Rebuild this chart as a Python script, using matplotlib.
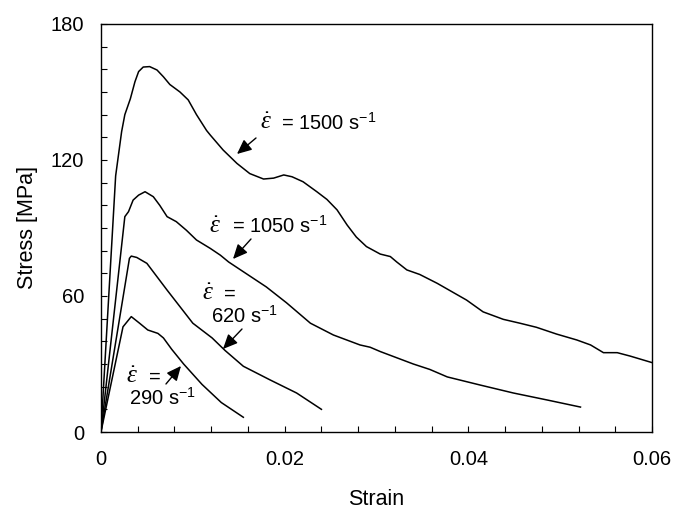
import matplotlib
matplotlib.use('Agg')
import matplotlib.pyplot as plt
from matplotlib.ticker import MultipleLocator

plt.rcParams['font.family'] = ['Liberation Sans', 'DejaVu Sans']
plt.rcParams['mathtext.fontset'] = 'custom'
plt.rcParams['mathtext.rm'] = 'Liberation Sans'
plt.rcParams['mathtext.it'] = 'Liberation Serif:italic'

# strain / stress
strain_1500 = [0, 0.0016, 0.0019, 0.00225, 0.0026, 0.0032, 0.0037, 0.0041, 0.0046,
               0.0053, 0.0061, 0.0068, 0.0075, 0.0086, 0.0095, 0.0104, 0.0115,
               0.0119, 0.0133, 0.0148, 0.0162, 0.0177, 0.0188, 0.0199, 0.0208,
               0.022, 0.0235, 0.0246, 0.0257, 0.0268, 0.0278, 0.0289, 0.0304,
               0.0315, 0.0322, 0.0333, 0.0347, 0.0366, 0.0398, 0.0416, 0.0438,
               0.0456, 0.0474, 0.0496, 0.0518, 0.0533, 0.0547, 0.0562, 0.0576,
               0.06]
stress_1500 = [0, 113, 122, 132.5, 140, 147, 154.5, 159, 161, 161.2, 159.7,
               156.7, 153.3, 150, 146.5, 140, 133, 131, 124.4, 118.5, 114,
               111.6, 112, 113.4, 112.6, 110.4, 106, 102.6, 98, 91.3, 86, 81.8,
               78.5, 77.4, 75, 71.5, 69.5, 65.6, 58.2, 53, 49.7, 48, 46.2, 43.2,
               40.6, 38.4, 35, 35, 33.5, 30.6]

strain_1050 = [0, 0.0026, 0.003, 0.0035, 0.0041, 0.0048, 0.0057, 0.0064, 0.0072,
               0.0082, 0.0093, 0.0104, 0.0119, 0.013, 0.0139, 0.018, 0.0202,
               0.0228, 0.0253, 0.0282, 0.0293, 0.0304, 0.034, 0.0358, 0.0377,
               0.0413, 0.0449, 0.0486, 0.0522]
stress_1050 = [0, 95, 97.2, 102.3, 104.5, 106, 103.8, 100, 95, 92.8, 89, 84.7,
               81, 78, 75, 64, 57, 48, 42.8, 38.4, 37.4, 35.5, 30, 27.6, 24.3,
               20.7, 17.2, 14.1, 11]

strain_620 = [0, 0.0031, 0.0033, 0.0039, 0.005, 0.0061, 0.0072, 0.0086, 0.01,
              0.0121, 0.0135, 0.0155, 0.0184, 0.0213, 0.024]
stress_620 = [0, 76.6, 77.6, 77, 74.4, 68.5, 62.6, 55.3, 48, 41.5, 36, 29, 23,
              17.2, 10]

strain_290 = [0, 0.0024, 0.0033, 0.0042, 0.0051, 0.0062, 0.0068, 0.0077, 0.009,
              0.011, 0.0131, 0.0155]
stress_290 = [0, 46.4, 50.9, 48, 45, 43.5, 41.5, 36.5, 30, 21, 13, 6.5]

fig = plt.figure(figsize=(6.73, 5.08), dpi=100)
ax = fig.add_axes([0.150, 0.1496, 0.819, 0.8032])

for x, y in [(strain_1500, stress_1500), (strain_1050, stress_1050),
             (strain_620, stress_620), (strain_290, stress_290)]:
    ax.plot(x, y, color='black', lw=1.1, solid_joinstyle='round')

ax.set_xlim(0, 0.06)
ax.set_ylim(0, 180)
ax.xaxis.set_minor_locator(MultipleLocator(0.004))
ax.yaxis.set_major_locator(MultipleLocator(60))
ax.yaxis.set_minor_locator(MultipleLocator(10))
ax.set_xticks([0, 0.02, 0.04, 0.06])
ax.set_xticklabels(['0', '0.02', '0.04', '0.06'])
ax.tick_params(which='both', direction='in', length=4.5, width=0.8,
               top=False, right=False, labelsize=14.5)
ax.tick_params(axis='x', pad=13)
ax.tick_params(axis='y', pad=12)
for sp in ax.spines.values():
    sp.set_linewidth(1.0)

ax.set_xlabel('Strain', fontsize=15.5, labelpad=14)
ax.set_ylabel('Stress [MPa]', fontsize=15.5, labelpad=9)

tsize = 14.5
esize = 18
eps = r'$\dot{\varepsilon}$'
arrow = dict(arrowstyle='-|>,head_length=0.55,head_width=0.25', color='black',
             lw=1.0, mutation_scale=16, shrinkA=0, shrinkB=0)

def px(xp, yp):
    # pixel position in the reference picture -> data coordinates
    return ((xp - 101) / 551 * 0.06, (432 - yp) / 408 * 180)

def label(ex, ey, lines):
    ax.text(*px(ex, ey), eps, fontsize=esize, ha='center', va='baseline')
    for lx, ly, s in lines:
        ax.text(*px(lx, ly), s, fontsize=tsize, ha='left', va='baseline')

label(266, 129, [(281, 130, r'= 1500 s$^{-1}$')])
ax.annotate('', xy=px(237, 154), xytext=px(256, 138), arrowprops=arrow)

label(215, 233, [(232, 233, r'= 1050 s$^{-1}$')])
ax.annotate('', xy=px(233, 259), xytext=px(251, 239), arrowprops=arrow)

label(208, 300, [(224, 300, '='), (211, 323, r'620 s$^{-1}$')])
ax.annotate('', xy=px(223, 349), xytext=px(242, 329), arrowprops=arrow)

label(132, 383, [(149, 383, '='), (129, 405, r'290 s$^{-1}$')])
ax.annotate('', xy=px(181, 366), xytext=px(166, 384), arrowprops=arrow)

fig.savefig('out.png', dpi=100)
